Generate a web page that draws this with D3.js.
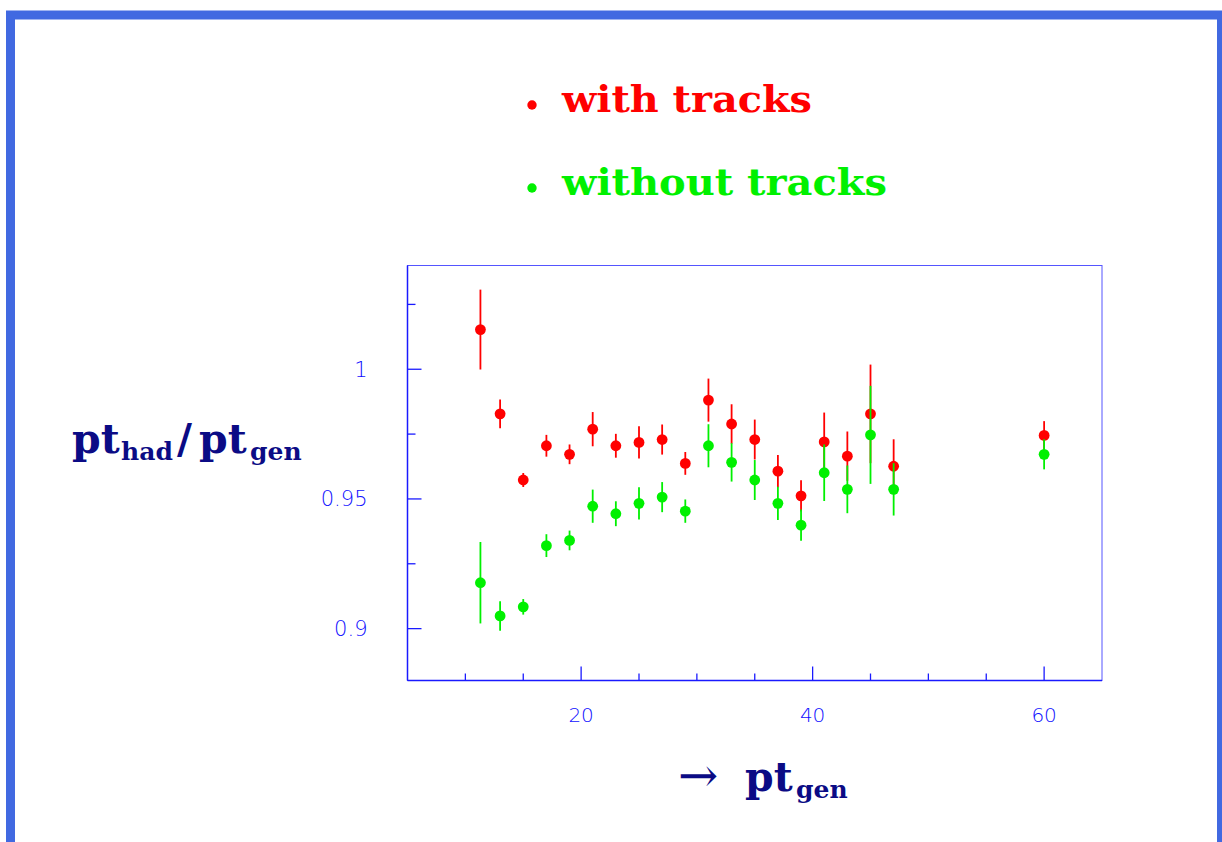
<!DOCTYPE html>
<html>
<head>
<meta charset="utf-8">
<script src="https://cdn.jsdelivr.net/npm/d3@7"></script>
<style>
  html, body { margin: 0; padding: 0; background: #ffffff; }
  svg { display: block; }
</style>
</head>
<body>
<svg id="chart" width="1222" height="842"></svg>
<script>
// Response ratio pt_had / pt_gen versus pt_gen
const ptGen = [11.3, 13, 15, 17, 19, 21, 23, 25, 27, 29, 31, 33, 35, 37, 39, 41, 43, 45, 47, 60];

const withTracks    = [1.0153, 0.9828, 0.9573, 0.9705, 0.9672, 0.9769, 0.9705, 0.9718, 0.9729, 0.9637,
                       0.9881, 0.9789, 0.9729, 0.9607, 0.9512, 0.9720, 0.9665, 0.9828, 0.9626, 0.9745];
const withTracksErr = [0.0154, 0.0055, 0.0027, 0.0042, 0.0038, 0.0066, 0.0046, 0.0062, 0.0058, 0.0044,
                       0.0083, 0.0076, 0.0077, 0.0062, 0.0060, 0.0113, 0.0095, 0.0190, 0.0104, 0.0055];

const withoutTracks    = [0.9177, 0.9049, 0.9084, 0.9320, 0.9340, 0.9472, 0.9443, 0.9483, 0.9507, 0.9453,
                          0.9705, 0.9641, 0.9573, 0.9483, 0.9399, 0.9601, 0.9537, 0.9747, 0.9537, 0.9672];
const withoutTracksErr = [0.0157, 0.0057, 0.0030, 0.0044, 0.0038, 0.0064, 0.0048, 0.0062, 0.0058, 0.0045,
                          0.0083, 0.0074, 0.0077, 0.0064, 0.0060, 0.0109, 0.0092, 0.0189, 0.0101, 0.0058];

const xTickLabels = [20, 40, 60];
const yTickLabels = [0.9, 0.95, 1];
const seriesNames = ["with tracks", "without tracks"];
const seriesColors = ["#ff0000", "#00f000"];

const svg = d3.select("#chart");

// page frame
svg.append("rect")
  .attr("x", 10.5).attr("y", 15)
  .attr("width", 1211).attr("height", 900)
  .attr("fill", "none")
  .attr("stroke", "#4169e1")
  .attr("stroke-width", 9);

const plot = { left: 407.5, right: 1102, top: 265.5, bottom: 680.5 };
const x = d3.scaleLinear().domain([5, 65]).range([plot.left, plot.right]);
const y = d3.scaleLinear().domain([0.88, 1.04]).range([plot.bottom, plot.top]);

const axisColor = "#1a1aff";
const labelColor = "#1010ff";

// plot box
svg.append("rect")
  .attr("x", plot.left).attr("y", plot.top)
  .attr("width", plot.right - plot.left).attr("height", plot.bottom - plot.top)
  .attr("fill", "none").attr("stroke", "#5555ff").attr("stroke-width", 1);

// bottom axis, ticks pointing into the plot
const xMinor = d3.range(10, 65, 5);
const xAxis = svg.append("g").attr("transform", `translate(0,${plot.bottom})`);
xAxis.append("line")
  .attr("x1", plot.left).attr("x2", plot.right)
  .attr("stroke", axisColor).attr("stroke-width", 1.5);
xAxis.selectAll("line.tick").data(xMinor).join("line")
  .attr("class", "tick")
  .attr("x1", d => x(d)).attr("x2", d => x(d))
  .attr("y1", 0).attr("y2", d => xTickLabels.includes(d) ? -14 : -7)
  .attr("stroke", axisColor).attr("stroke-width", 1.3);
xAxis.selectAll("text").data(xTickLabels).join("text")
  .attr("x", d => x(d)).attr("y", 41)
  .attr("text-anchor", "middle")
  .attr("font-family", "DejaVu Sans").attr("font-weight", 200)
  .attr("font-size", 20).attr("fill", labelColor)
  .text(d => d);

// left axis, ticks pointing into the plot
const yMinor = [0.9, 0.925, 0.95, 0.975, 1, 1.025];
const yAxis = svg.append("g").attr("transform", `translate(${plot.left},0)`);
yAxis.append("line")
  .attr("y1", plot.top).attr("y2", plot.bottom)
  .attr("stroke", axisColor).attr("stroke-width", 1.5);
yAxis.selectAll("line.tick").data(yMinor).join("line")
  .attr("class", "tick")
  .attr("y1", d => y(d)).attr("y2", d => y(d))
  .attr("x1", 0).attr("x2", d => yTickLabels.some(v => Math.abs(v - d) < 1e-9) ? 14 : 8)
  .attr("stroke", axisColor).attr("stroke-width", 1.3);
yAxis.selectAll("text").data(yTickLabels).join("text")
  .attr("x", -40).attr("y", d => y(d))
  .attr("dy", "0.36em")
  .attr("text-anchor", "end")
  .attr("font-family", "DejaVu Sans").attr("font-weight", 200)
  .attr("font-size", 21).attr("fill", labelColor)
  .text(d => d);

// data: error bars then markers, one series after the other
const series = [
  { vals: withTracks, errs: withTracksErr, color: seriesColors[0] },
  { vals: withoutTracks, errs: withoutTracksErr, color: seriesColors[1] }
];
series.forEach(s => {
  const g = svg.append("g");
  const pts = ptGen.map((p, i) => ({ x: p, v: s.vals[i], e: s.errs[i] }));
  g.selectAll("line").data(pts).join("line")
    .attr("x1", d => x(d.x)).attr("x2", d => x(d.x))
    .attr("y1", d => y(d.v - d.e)).attr("y2", d => y(d.v + d.e))
    .attr("stroke", s.color).attr("stroke-width", 1.8);
  g.selectAll("circle").data(pts).join("circle")
    .attr("cx", d => x(d.x)).attr("cy", d => y(d.v))
    .attr("r", 5.4).attr("fill", s.color);
});

// legend
const legend = svg.append("g");
const legendRows = [{ dotY: 105, baseY: 112, len: 250 }, { dotY: 188, baseY: 195, len: 325 }];
seriesNames.forEach((name, i) => {
  legend.append("circle")
    .attr("cx", 532).attr("cy", legendRows[i].dotY).attr("r", 4.7)
    .attr("fill", seriesColors[i]);
  legend.append("text")
    .attr("x", 562).attr("y", legendRows[i].baseY)
    .attr("font-family", "DejaVu Serif").attr("font-weight", "bold")
    .attr("font-size", 37).attr("fill", seriesColors[i])
    .attr("textLength", legendRows[i].len).attr("lengthAdjust", "spacingAndGlyphs")
    .text(name);
});

// axis titles
const navy = "#0b0b85";
const yTitle = svg.append("text")
  .attr("font-family", "DejaVu Serif").attr("font-weight", "bold").attr("fill", navy);
yTitle.append("tspan").attr("x", 72).attr("y", 453).attr("font-size", 41).text("pt");
yTitle.append("tspan").attr("x", 121).attr("y", 460).attr("font-size", 25).text("had");
yTitle.append("tspan").attr("x", 177).attr("y", 453).attr("font-size", 41).text("/");
yTitle.append("tspan").attr("x", 199).attr("y", 453).attr("font-size", 41).text("pt");
yTitle.append("tspan").attr("x", 250).attr("y", 460).attr("font-size", 25).text("gen");

const xTitle = svg.append("text")
  .attr("font-family", "DejaVu Serif").attr("font-weight", "bold").attr("fill", navy);
xTitle.append("tspan").attr("x", 678).attr("y", 792).attr("font-size", 48)
  .attr("font-weight", "normal").text("\u2192");
xTitle.append("tspan").attr("x", 745).attr("y", 791).attr("font-size", 41).text("pt");
xTitle.append("tspan").attr("x", 796).attr("y", 798).attr("font-size", 25).text("gen");
</script>
</body>
</html>
